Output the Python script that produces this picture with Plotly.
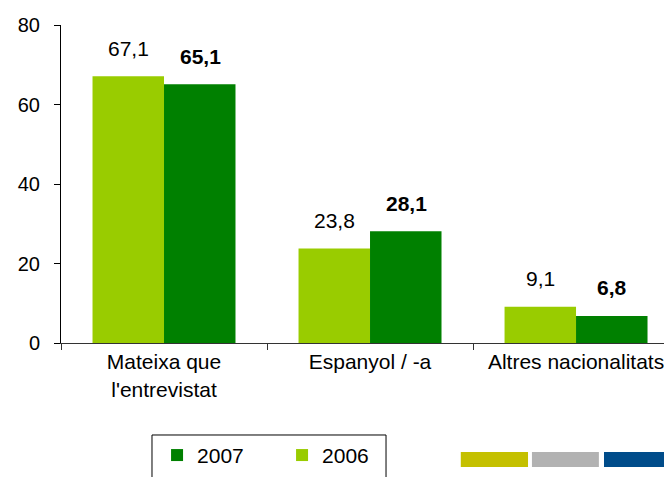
import plotly.graph_objects as go

categories = ["Mateixa que<br>l'entrevistat", "Espanyol / -a", "Altres nacionalitats"]
values_2006 = [67.1, 23.8, 9.1]
values_2007 = [65.1, 28.1, 6.8]
y_ticks = [0, 20, 40, 60, 80]

LIGHT = "#99CC00"
DARK = "#008000"
FONT = "Liberation Sans, Arial, sans-serif"

def fmt(v):
    return f"{v:.1f}".replace(".", ",")

fig = go.Figure()
fig.add_trace(go.Bar(name="2006", x=categories, y=values_2006, marker_color=LIGHT,
                     marker_line_width=0, hoverinfo="skip"))
fig.add_trace(go.Bar(name="2007", x=categories, y=values_2007, marker_color=DARK,
                     marker_line_width=0, hoverinfo="skip"))

ann = []
for c, v in zip(categories, values_2006):
    ann.append(dict(x=c, y=v, xref="x", yref="y", text=fmt(v), showarrow=False,
                    xshift=-36, yshift=28, yanchor="middle",
                    font=dict(family=FONT, size=21, color="#000")))
for c, v in zip(categories, values_2007):
    ann.append(dict(x=c, y=v, xref="x", yref="y", text="<b>" + fmt(v) + "</b>", showarrow=False,
                    xshift=36, yshift=28, yanchor="middle",
                    font=dict(family=FONT, size=21, color="#000")))

shapes = [
    # legend frame
    dict(type="rect", xref="paper", yref="paper", x0=0.1509, x1=0.539, y0=-0.6, y1=-0.2893,
         fillcolor="rgba(0,0,0,0)", line=dict(color="#000", width=1)),
    # decorative colour strip
    dict(type="rect", xref="paper", yref="paper", x0=0.663, x1=0.7745, y0=-0.39, y1=-0.3428,
         fillcolor="#C4C000", line=dict(width=0)),
    dict(type="rect", xref="paper", yref="paper", x0=0.781, x1=0.892, y0=-0.39, y1=-0.3428,
         fillcolor="#B2B2B2", line=dict(width=0)),
    dict(type="rect", xref="paper", yref="paper", x0=0.9005, x1=1.02, y0=-0.39, y1=-0.3428,
         fillcolor="#004C8A", line=dict(width=0)),
]

fig.update_layout(
    width=664, height=477,
    margin=dict(l=61, r=0, t=25, b=134, autoexpand=False),
    paper_bgcolor="white", plot_bgcolor="white",
    barmode="group", bargap=0.306, bargroupgap=0,
    font=dict(family=FONT, size=21, color="#000"),
    showlegend=True,
    legend=dict(orientation="h", x=0.151, y=-0.289, xanchor="left", yanchor="top",
                traceorder="reversed", borderwidth=0,
                font=dict(family=FONT, size=21, color="#000"), entrywidth=75,
                indentation=5, bgcolor="rgba(0,0,0,0)"),
    annotations=ann,
    shapes=shapes,
)
fig.update_xaxes(range=[-0.5, 2.427], showline=True, linecolor="#333", linewidth=1,
                 ticks="outside", tickson="boundaries", ticklen=6, tickcolor="#333",
                 tickfont=dict(family=FONT, size=21, color="#000"), showgrid=False,
                 zeroline=False, fixedrange=True, automargin=False)
fig.update_yaxes(range=[0, 80], tickvals=y_ticks, showline=True, linecolor="#000", linewidth=1,
                 ticks="outside", ticklen=6, tickcolor="#000", showgrid=False, zeroline=False,
                 tickfont=dict(family=FONT, size=20, color="#000"), ticklabelstandoff=10,
                 automargin=False, fixedrange=True)

fig.write_html("out.html", config={"displayModeBar": False},
               post_script="document.body.style.margin='0';document.body.style.overflow='hidden';")
